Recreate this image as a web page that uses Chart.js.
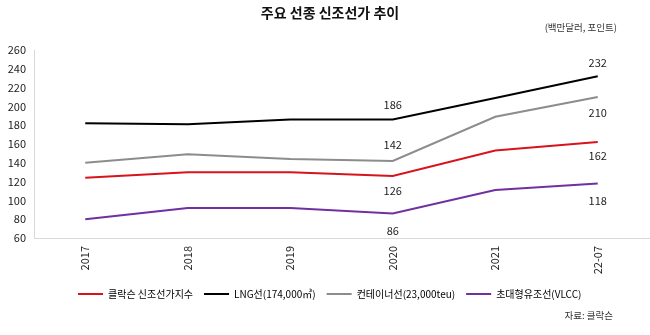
<!DOCTYPE html>
<html>
<head>
<meta charset="utf-8">
<script src="https://cdn.jsdelivr.net/npm/chart.js@4"></script>
<style>
  html, body { margin: 0; padding: 0; background: #fff; }
  #wrap { width: 650px; height: 335px; }
</style>
</head>
<body>
<div id="wrap"><canvas id="chart" width="650" height="335"></canvas></div>
<script>
const years = ['2017', '2018', '2019', '2020', '2021', '22-07'];
const clarksonIndex = [124, 130, 130, 126, 153, 162];
const lngShip = [182, 181, 186, 186, 209, 232];
const containerShip = [140, 149, 144, 142, 189, 210];
const vlcc = [80, 92, 92, 86, 111, 118];
const seriesNames = ['클락슨 신조선가지수', 'LNG선(174,000㎥)', '컨테이너선(23,000teu)', '초대형유조선(VLCC)'];
const seriesColors = ['#d7141e', '#000000', '#8c8c8c', '#7030a0'];
const yTicks = [60, 80, 100, 120, 140, 160, 180, 200, 220, 240, 260];

// 값 표시할 위치 (계열, 시점, 위/아래)
const valueLabels = [
  [1, 3, -15], [2, 3, -16], [0, 3, 15], [3, 3, 17],
  [1, 5, -14], [2, 5, 16], [0, 5, 14], [3, 5, 17]
];

const FONT = '"Noto Sans CJK KR", "Noto Sans", sans-serif';

const textPlugin = {
  id: 'texts',
  afterLayout(chart) {
    // 범례를 왼쪽으로 이동
    const lg = chart.legend;
    const shift = 67 - lg.left;
    lg.left += shift;
    lg.right += shift;
  },
  afterDatasetsDraw(chart) {
    const ctx = chart.ctx;
    ctx.save();
    ctx.fillStyle = '#222';
    ctx.font = '11px ' + FONT;
    ctx.textAlign = 'center';
    ctx.textBaseline = 'middle';
    valueLabels.forEach(([ds, idx, dy]) => {
      const pt = chart.getDatasetMeta(ds).data[idx];
      ctx.fillText(String(chart.data.datasets[ds].data[idx]), pt.x, pt.y + dy);
    });

    ctx.fillStyle = '#111';
    ctx.font = 'bold 14px ' + FONT;
    ctx.fillText('주요 선종 신조선가 추이', 330, 13);

    ctx.fillStyle = '#333';
    ctx.font = '9.5px ' + FONT;
    ctx.textAlign = 'right';
    ctx.fillText('(백만달러, 포인트)', 617, 27);
    ctx.fillText('자료: 클락슨', 613, 315);
    ctx.restore();
  }
};

const datasets = [clarksonIndex, lngShip, containerShip, vlcc].map((vals, i) => ({
  label: seriesNames[i],
  data: vals,
  borderColor: seriesColors[i],
  backgroundColor: seriesColors[i],
  borderWidth: 2,
  pointRadius: 0,
  tension: 0
}));

new Chart(document.querySelector('#chart'), {
  type: 'line',
  data: { labels: years, datasets: datasets },
  options: {
    responsive: false,
    animation: false,
    devicePixelRatio: 1,
    layout: { padding: { top: 50, right: 1, bottom: 26, left: 0 } },
    plugins: {
      title: { display: false },
      tooltip: { enabled: false },
      legend: {
        position: 'bottom',
        align: 'start',
        labels: {
          boxWidth: 25,
          boxHeight: 2,
          padding: 11,
          color: '#222',
          font: { family: FONT, size: 10 },
          generateLabels: (chart) => chart.data.datasets.map((d, i) => ({
            text: d.label,
            fillStyle: d.borderColor,
            strokeStyle: d.borderColor,
            lineWidth: 0,
            datasetIndex: i
          }))
        }
      }
    },
    scales: {
      x: {
        offset: true,
        grid: { display: false, drawTicks: false },
        border: { display: true, color: '#d9d9d9', width: 1 },
        ticks: {
          maxRotation: 90,
          minRotation: 90,
          padding: 8,
          color: '#222',
          font: { family: FONT, size: 11 }
        },
        afterFit: (scale) => { scale.height = 40; }
      },
      y: {
        min: 60,
        max: 260,
        grid: { display: false, drawTicks: false },
        border: { display: true, color: '#d9d9d9', width: 1 },
        afterBuildTicks: (scale) => { scale.ticks = yTicks.map((v) => ({ value: v })); },
        ticks: {
          padding: 8,
          color: '#222',
          font: { family: FONT, size: 11 }
        },
        afterFit: (scale) => { scale.width = 34; }
      }
    }
  },
  plugins: [textPlugin]
});
</script>
</body>
</html>
